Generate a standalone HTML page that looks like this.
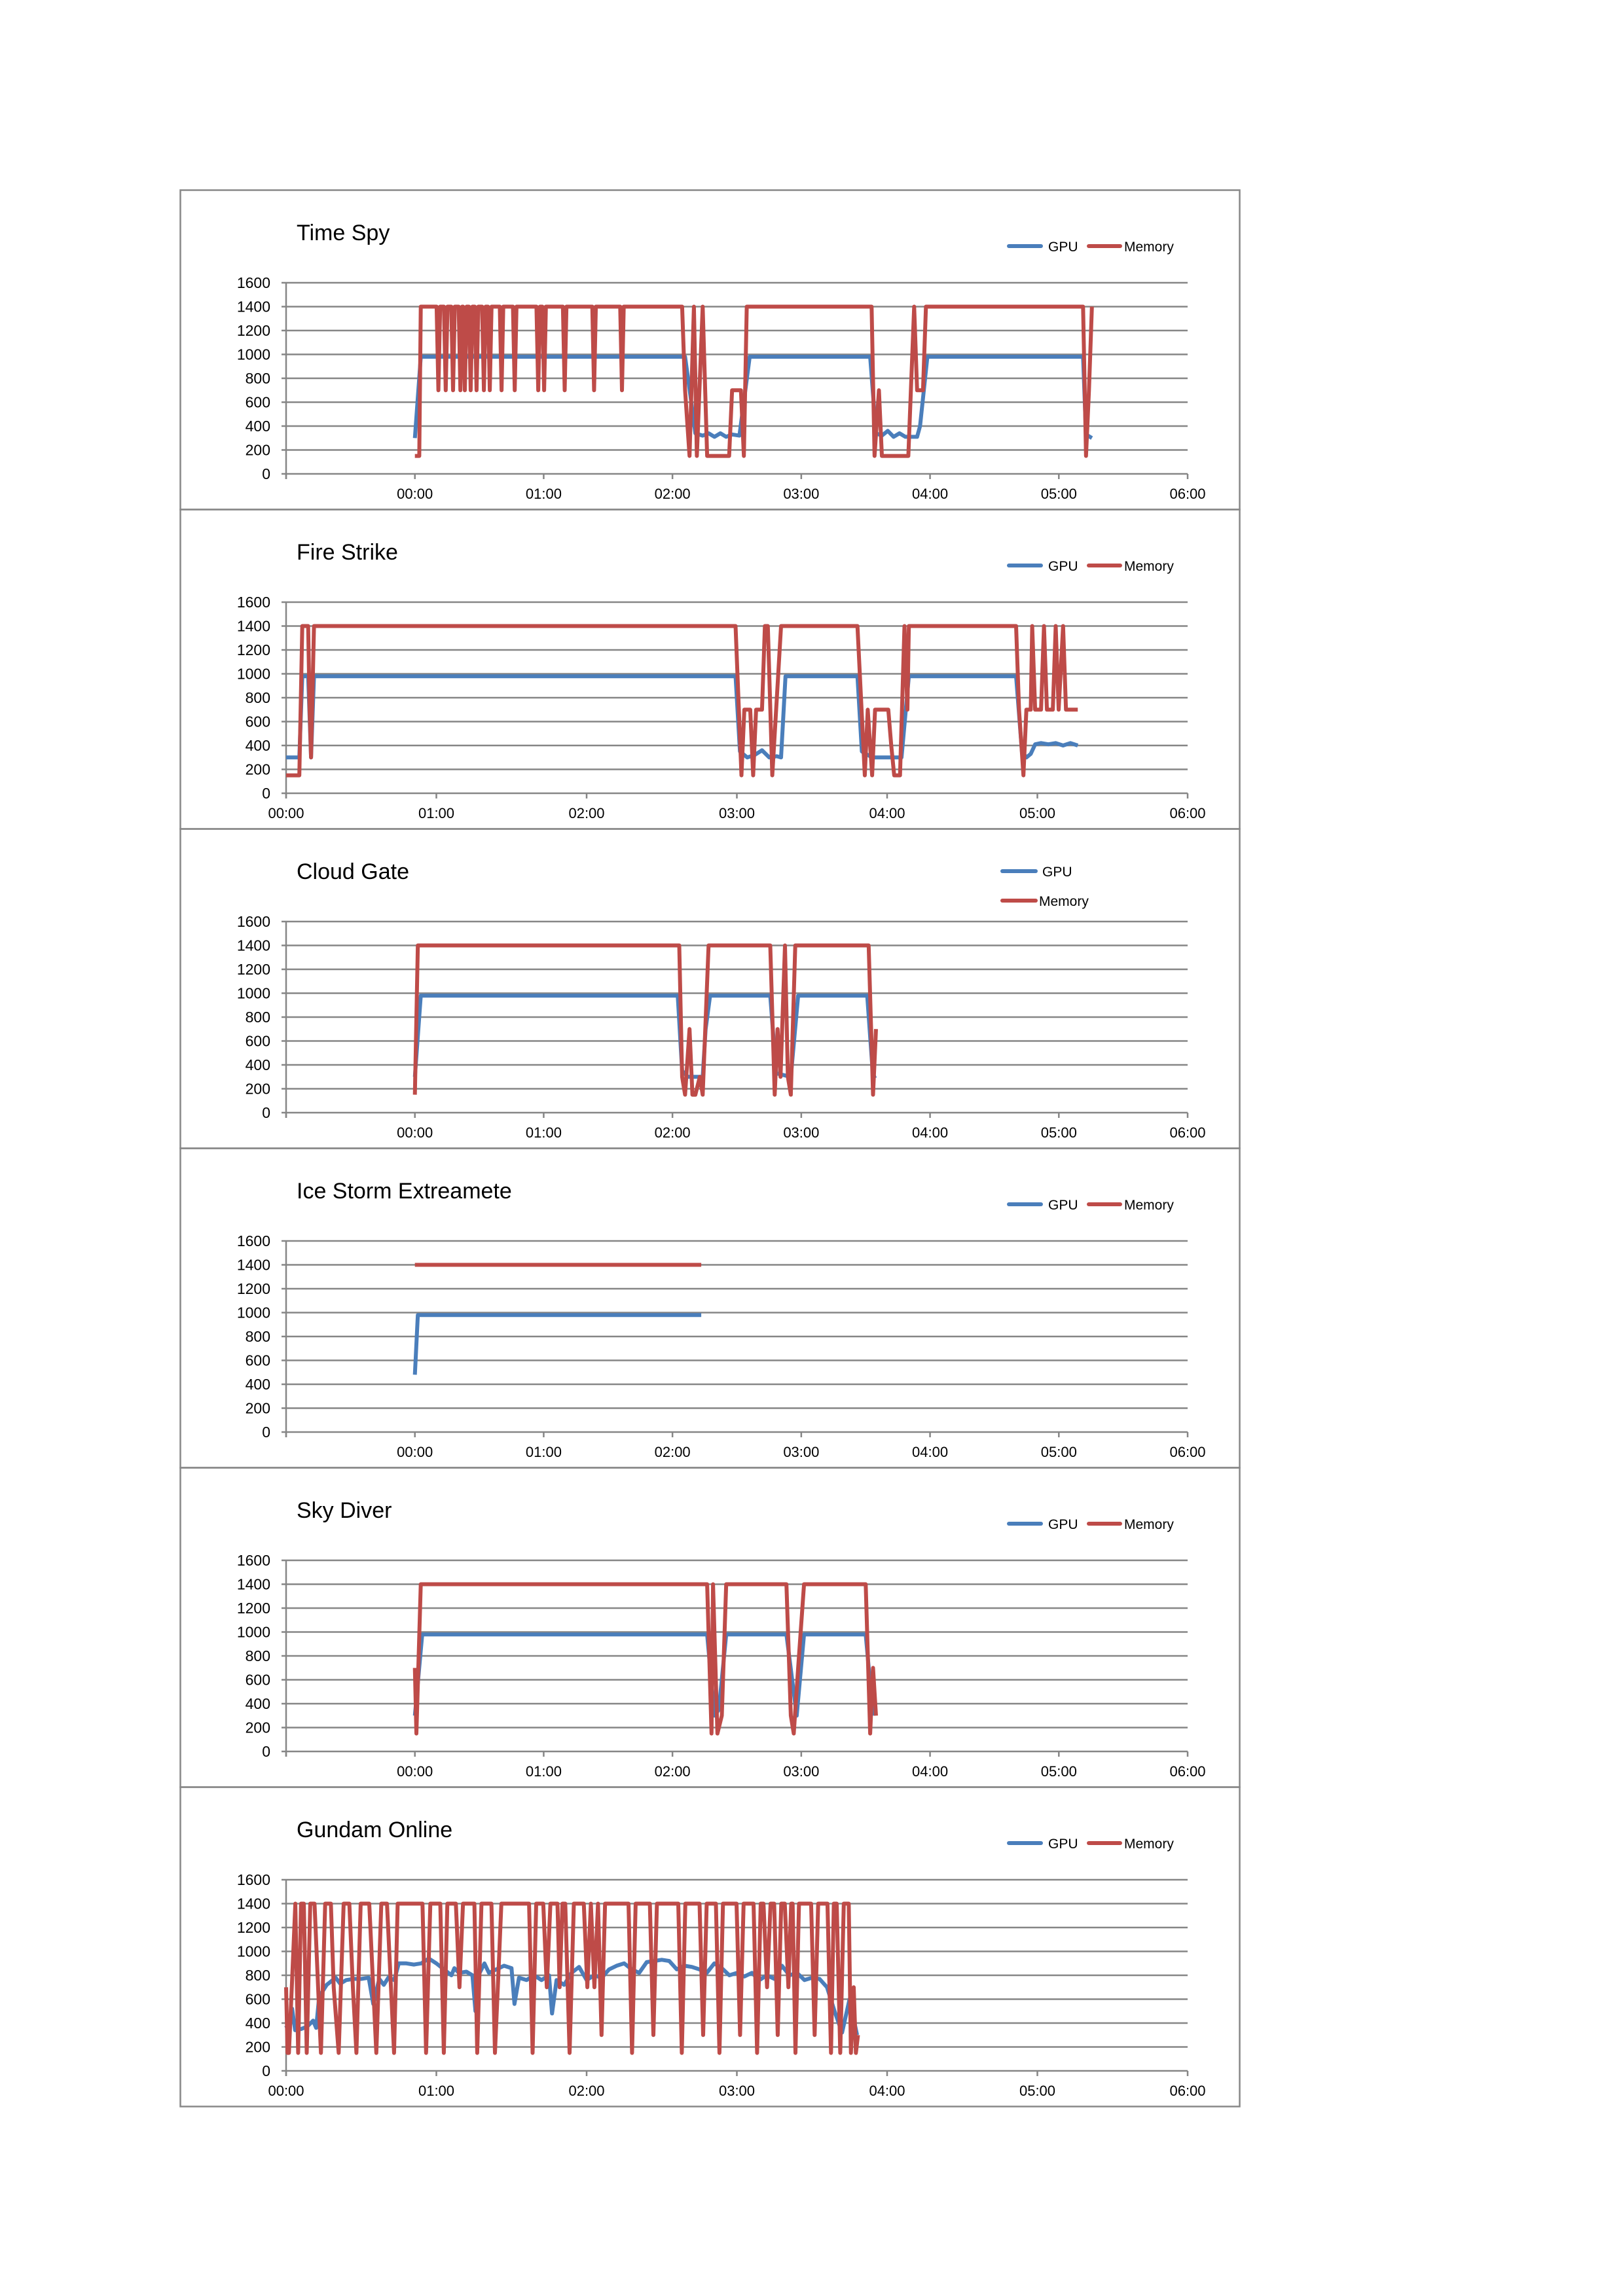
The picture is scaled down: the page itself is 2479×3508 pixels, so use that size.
<!DOCTYPE html>
<html><head><meta charset="utf-8"><style>
html,body{margin:0;padding:0;background:#fff;}
svg{display:block;}
text{font-family:"Liberation Sans",sans-serif;fill:#000;}
</style></head><body>
<svg id="s" width="2479" height="3508" xmlns="http://www.w3.org/2000/svg"></svg>
<script>
var S=document.getElementById('s');var out='';
var L=437,R=1814;
function chart(i,title,shifted,mem,gpu,legendV){
 var T=290+488*i;
 out+='<rect x="275.5" y="'+(T+0.5)+'" width="1618" height="488" fill="none" stroke="#888" stroke-width="2.5"/>';
 out+='<text x="453" y="'+(T+77)+'" font-size="34">'+title+'</text>';
 var y0=T+434,y16=T+142,st=(y0-y16)/8;
 for(var k=0;k<=8;k++){var y=y0-k*st;
  out+='<line x1="'+(L-7)+'" x2="'+R+'" y1="'+y+'" y2="'+y+'" stroke="#868686" stroke-width="2.5"/>';
  out+='<text x="413" y="'+(y+8)+'" font-size="23" text-anchor="end">'+(k*200)+'</text>';}
 out+='<line x1="'+L+'" x2="'+L+'" y1="'+y16+'" y2="'+(y0+8)+'" stroke="#868686" stroke-width="2.5"/>';
 var start=shifted?-1:0,hr=(R-L)/(6-start);
 var n=shifted?7:6;
 for(var k=0;k<=n;k++){var x=L+k*hr;
  out+='<line x1="'+x+'" x2="'+x+'" y1="'+y0+'" y2="'+(y0+8)+'" stroke="#868686" stroke-width="2.5"/>';
  var h=k+start; if(h>=0) out+='<text x="'+x+'" y="'+(T+472)+'" font-size="22" text-anchor="middle">0'+h+':00</text>';}
 function X(t){return L+(t-start)*hr;} function Y(v){return y0-v/1600*(y0-y16);}
 function path(d,c){var p='';for(var j=0;j<d.length;j++){p+=(j?'L':'M')+X(d[j][0]).toFixed(1)+','+Y(d[j][1]).toFixed(1);}
  out+='<path d="'+p+'" fill="none" stroke="'+c+'" stroke-width="6" stroke-linejoin="round"/>';}
 path(gpu,'#4a7ebb');path(mem,'#be4b48');
 if(legendV){
  out+='<line x1="1531" x2="1582" y1="'+(T+65)+'" y2="'+(T+65)+'" stroke="#4a7ebb" stroke-width="6" stroke-linecap="round"/><text x="1592" y="'+(T+73)+'" font-size="21">GPU</text>';
  out+='<line x1="1531" x2="1582" y1="'+(T+110)+'" y2="'+(T+110)+'" stroke="#be4b48" stroke-width="6" stroke-linecap="round"/><text x="1587" y="'+(T+118)+'" font-size="21">Memory</text>';
 } else {
  out+='<line x1="1541" x2="1590" y1="'+(T+86)+'" y2="'+(T+86)+'" stroke="#4a7ebb" stroke-width="6" stroke-linecap="round"/><text x="1601" y="'+(T+94)+'" font-size="21">GPU</text>';
  out+='<line x1="1663" x2="1711" y1="'+(T+86)+'" y2="'+(T+86)+'" stroke="#be4b48" stroke-width="6" stroke-linecap="round"/><text x="1717" y="'+(T+94)+'" font-size="21">Memory</text>';
 }
}
function cs(a){return a.map(function(p){return [(p[0]-284)/87.7,p[1]];});}
function cu(a){return a.map(function(p){return [(p[0]-196)/102.3,p[1]];});}
function dips(x0,x1,base,list,dv){var r=[[x0,base]];list.forEach(function(x){r.push([x-1.2,base],[x,dv],[x+1.2,base]);});r.push([x1,base]);return r;}
// Time Spy
var m=[[284,150],[287,150],[288,1400]].concat(dips(288,466,1400,[300,305,310,315,318,322,326,331,335,343,352,368,372,386,406,425],700));
m=m.concat([[468,700],[471,150],[474,1400],[476,150],[480,1400],[483,150],[498,150],[500,700],[506,700],[508,150],[510,1400],[595,1400],[597,150],[600,700],[602,150],[604,150],[620,150],[624,1400],[626,700],[630,700],[632,1400],[739,1400],[741,150],[743,700],[745,1400]]);
var g=[[284,300],[288,980],[468,980],[472,620],[475,340],[480,320],[484,340],[488,310],[492,340],[496,310],[500,330],[505,320],[512,980],[594,980],[598,340],[602,320],[606,360],[610,310],[614,340],[618,310],[626,310],[628,400],[633,980],[739,980],[741,330],[745,300]];
chart(0,'Time Spy',true,cs(m),cs(g),false);
// Fire Strike
m=[[196,150],[205,150],[207,1400],[211,1400],[212,700],[213,300],[215,1400],[502,1400],[506,150],[508,700],[512,700],[514,150],[516,700],[520,700],[522,1400],[524,1400],[527,150],[533,1400],[585,1400],[590,150],[592,700],[595,150],[597,700],[606,700],[608,400],[610,150],[614,150],[617,1400],[619,700],[620,1400],[693,1400],[695,700],[698,150],[700,700],[703,700],[704,1400],[706,700],[710,700],[712,1400],[714,700],[718,700],[720,1400],[722,700],[725,1400],[727,700],[735,700]];
g=[[196,300],[205,300],[207,980],[211,980],[213,300],[215,980],[502,980],[505,350],[510,300],[515,320],[520,360],[525,300],[530,310],[533,300],[536,980],[585,980],[588,350],[595,300],[615,300],[620,980],[693,980],[697,350],[700,300],[703,330],[706,410],[710,420],[715,410],[720,420],[725,400],[730,420],[735,400]];
chart(1,'Fire Strike',false,cu(m),cu(g),false);
// Cloud Gate
m=[[284,150],[286,1400],[464,1400],[466,300],[468,150],[471,700],[473,150],[475,150],[478,300],[480,150],[484,1400],[526,1400],[529,150],[531,700],[533,300],[536,1400],[538,300],[540,150],[543,1400],[593,1400],[596,150],[598,700]];
g=[[284,300],[288,980],[463,980],[466,350],[470,300],[480,300],[482,700],[485,980],[526,980],[530,330],[540,300],[545,980],[592,980],[596,300],[598,310]];
chart(2,'Cloud Gate',true,cs(m),cs(g),true);
// Ice Storm
chart(3,'Ice Storm Extreamete',true,cs([[284,1400],[479,1400]]),cs([[284,480],[286,980],[479,980]]),false);
// Sky Diver
m=[[284,700],[285,150],[288,1400],[483,1400],[486,150],[487,1400],[490,150],[493,300],[496,1400],[537,1400],[540,300],[542,150],[545,700],[549,1400],[591,1400],[594,150],[596,700],[598,300]];
g=[[284,300],[289,980],[483,980],[488,300],[491,350],[496,980],[537,980],[544,300],[549,980],[591,980],[596,300]];
chart(4,'Sky Diver',true,cs(m),cs(g),false);
// Gundam
var zt=function(x){return (x-163)/211.5;};
var dl=[[167,150],[171,700],[176,1400],[180,150],[184,1400],[188,1400],[192,150],[197,1400],[203,1400],[212,150],[218,1400],[226,1400],[230,700],[237,150],[244,1400],[252,1400],[257,700],[262,150],[268,1400],[280,1400],[290,150],[297,1400],[305,1400],[315,150],[320,1400],[355,1400],[360,150],[366,1400],[380,1400],[385,150],[390,1400],[402,1400],[407,700],[412,1400],[428,1400],[432,150],[438,1400],[452,1400],[457,150],[461,700],[466,1400],[505,1400],[510,150],[515,1400],[525,1400],[530,700],[535,1400],[545,1400],[548,700],[552,1400],[556,1400],[562,150],[568,1400],[582,1400],[587,700],[592,1400],[597,700],[602,1400],[607,300],[612,1400],[645,1400],[650,150],[655,1400],[675,1400],[680,300],[685,1400],[715,1400],[720,150],[725,1400],[745,1400],[750,300],[755,1400],[768,1400],[773,150],[778,1400],[797,1400],[802,300],[807,1400],[821,1400],[826,150],[831,1400],[835,1400],[840,700],[845,1400],[850,1400],[855,300],[860,1400],[865,1400],[870,700],[874,1400],[876,1400],[880,150],[885,1400],[902,1400],[907,300],[912,1400],[925,1400],[930,150],[934,1400],[938,1400],[943,150],[948,1400],[955,1400],[958,150],[962,700],[965,150],[968,300]];
m=[[163,700],[165,150]].concat(dl).map(function(p){return [zt(p[0]),p[1]];});
var gk=[[0,380],[0.02,330],[0.04,520],[0.06,340],[0.1,350],[0.14,370],[0.18,420],[0.2,360],[0.22,620],[0.27,720],[0.3,750],[0.33,780],[0.36,730],[0.4,760],[0.45,770],[0.5,770],[0.55,780],[0.58,560],[0.62,770],[0.65,720],[0.68,780],[0.72,760],[0.75,900],[0.8,900],[0.85,890],[0.9,900],[0.95,940],[1.0,900],[1.05,850],[1.1,800],[1.12,860],[1.15,820],[1.2,830],[1.24,800],[1.26,500],[1.28,800],[1.32,900],[1.35,820],[1.4,850],[1.45,880],[1.5,860],[1.52,560],[1.55,780],[1.6,760],[1.65,800],[1.7,760],[1.75,800],[1.77,480],[1.8,760],[1.85,720],[1.9,820],[1.95,870],[2.0,760],[2.05,800],[2.1,780],[2.15,850],[2.2,880],[2.25,900],[2.3,850],[2.35,820],[2.4,910],[2.45,920],[2.5,930],[2.55,920],[2.6,850],[2.65,880],[2.7,870],[2.75,850],[2.8,820],[2.85,900],[2.9,860],[2.95,800],[3.0,820],[3.05,790],[3.1,820],[3.15,760],[3.2,800],[3.25,770],[3.3,880],[3.35,800],[3.4,820],[3.45,760],[3.5,780],[3.55,770],[3.6,700],[3.65,500],[3.7,320],[3.75,600],[3.8,300]];
chart(5,'Gundam Online',false,m,gk,false);
S.innerHTML=out;
</script>
</body></html>
